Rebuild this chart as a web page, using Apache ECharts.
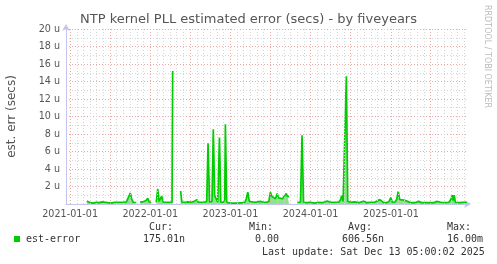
<!DOCTYPE html>
<html><head><meta charset="utf-8">
<script src="https://cdn.jsdelivr.net/npm/echarts@6/dist/echarts.min.js"></script>
<style>html,body{margin:0;padding:0;background:#fff}#c{width:497px;height:264px}</style>
</head><body><div id="c"></div>
<script>
// ---- data (values in micro-seconds) ----
const dates = ['2021-03-18','2021-03-24','2021-04-02','2021-04-16','2021-04-30','2021-05-13','2021-05-27','2021-06-10','2021-06-23','2021-07-07','2021-07-21','2021-08-04','2021-08-17','2021-08-31','2021-09-14','2021-09-23','2021-10-02','2021-10-09','2021-10-16','2021-10-29','2021-11-07','2021-11-16','2021-11-29','2021-12-13','2021-12-20','2021-12-27','2022-01-05','2022-01-14','2022-01-28','2022-02-04','2022-02-10','2022-02-15','2022-02-22','2022-03-01','2022-03-14','2022-03-28','2022-04-10','2022-04-13','2022-04-18','2022-05-19','2022-05-25','2022-06-09','2022-06-23','2022-07-06','2022-07-20','2022-08-01','2022-08-07','2022-08-21','2022-09-04','2022-09-15','2022-09-21','2022-09-28','2022-10-09','2022-10-15','2022-10-21','2022-10-28','2022-11-04','2022-11-08','2022-11-12','2022-11-18','2022-11-29','2022-12-06','2022-12-09','2022-12-15','2023-01-01','2023-01-19','2023-02-06','2023-02-24','2023-03-08','2023-03-14','2023-03-21','2023-03-28','2023-04-06','2023-04-20','2023-05-04','2023-05-17','2023-05-25','2023-05-31','2023-06-14','2023-06-25','2023-07-02','2023-07-09','2023-07-18','2023-07-25','2023-08-02','2023-08-08','2023-08-17','2023-08-26','2023-09-04','2023-09-12','2023-09-18','2023-09-25','2023-09-30','2023-11-02','2023-11-16','2023-11-23','2023-11-30','2023-12-13','2024-01-01','2024-01-19','2024-02-06','2024-02-24','2024-03-17','2024-04-01','2024-04-19','2024-05-08','2024-05-17','2024-05-21','2024-05-28','2024-06-06','2024-06-12','2024-06-18','2024-07-01','2024-07-19','2024-08-07','2024-08-31','2024-09-12','2024-10-01','2024-10-19','2024-10-28','2024-11-11','2024-11-20','2024-11-29','2024-12-13','2024-12-24','2024-12-31','2025-01-07','2025-01-18','2025-01-27','2025-02-03','2025-02-10','2025-02-19','2025-02-28','2025-03-09','2025-03-18','2025-04-01','2025-04-19','2025-05-08','2025-05-21','2025-06-09','2025-06-27','2025-07-15','2025-07-29','2025-08-07','2025-08-16','2025-09-03','2025-09-22','2025-10-01','2025-10-07','2025-10-11','2025-10-16','2025-10-21','2025-11-06','2025-11-25','2025-12-13'];
const estError = [0.35,0.3,0.15,0.1,0.2,0.15,0.25,0.2,0.15,0.1,0.2,0.2,0.2,0.2,0.25,0.4,1.25,0.5,0.2,0.15,null,0.25,0.25,0.4,0.65,0.25,0.15,null,0.2,1.7,0.3,0.4,0.9,0.2,0.2,0.2,0.2,15.2,null,1.5,0.2,0.2,0.25,0.2,0.3,0.5,0.2,0.2,0.2,0.3,6.95,0.2,0.3,8.55,1.0,0.9,0.2,0.3,7.6,0.2,0.2,0.5,9.1,0.2,0.1,0.1,0.1,0.15,0.2,0.6,1.35,0.3,0.2,0.2,0.25,0.3,0.5,0.2,0.2,0.3,1.35,0.85,0.85,0.6,1.2,0.7,0.6,0.6,0.55,1.2,0.85,0.85,null,0.2,0.2,7.85,0.2,0.15,0.2,0.1,0.2,0.15,0.35,0.2,0.2,0.2,0.5,0.95,0.3,0.4,14.6,0.3,0.2,0.25,0.15,0.35,0.15,0.2,0.2,0.35,0.5,0.3,0.15,0.15,0.3,0.75,0.2,0.2,0.5,1.45,0.5,0.3,0.45,0.55,0.3,0.15,0.15,0.3,0.15,0.15,0.15,0.15,0.3,0.5,0.2,0.15,0.2,0.55,1.0,0.4,1.0,0.2,0.15,0.2,0.17];
const xLabels = ['2021-01-01','2022-01-01','2023-01-01','2024-01-01','2025-01-01'];
const majorX = ['2021-01-01','2021-07-01','2022-01-01','2022-07-01','2023-01-01','2023-07-01','2024-01-01','2024-07-01','2025-01-01','2025-07-01'];
const rangeStart = '2020-12-13T05:00:02Z';
const rangeEnd = '2025-12-13T05:00:02Z';
const legendStats = {cur:'175.01n', min:'0.00', avg:'606.56n', max:'16.00m'};
const lastUpdate = 'Last update: Sat Dec 13 05:00:02 2025';

const T = d => Date.parse(d.length === 10 ? d + 'T00:00:00Z' : d);
const startT = T(rangeStart), endT = T(rangeEnd);
// minor vertical grid: first of each month (not on majors)
const minorX = [];
for (let y = 2020; y <= 2025; y++) for (let m = 1; m <= 12; m++) {
  if (m === 1 || m === 7) continue;
  const d = y + '-' + String(m).padStart(2,'0') + '-01';
  const t = T(d);
  if (t > startT && t < endT) minorX.push(d);
}

const chart = echarts.init(document.getElementById('c'), null, {renderer:'canvas'});
const mono = '"DejaVu Sans Mono", monospace';
const sans = '"DejaVu Sans", sans-serif';
const labelMap = {};
xLabels.forEach(d => { labelMap[T(d)] = d; });

chart.setOption({
  animation: false,
  backgroundColor: '#fff',
  title: {text: 'NTP kernel PLL estimated error (secs) - by fiveyears', left: 'center', top: 8,
    textStyle: {fontFamily: sans, fontSize: 13, fontWeight: 'normal', color: '#555'}},
  grid: {left: 66, right: 30, top: 29, bottom: 60, containLabel: false, outerBoundsMode: 'none'},
  xAxis: {type: 'value', min: startT, max: endT, scale: true,
    axisLine: {show: true, onZero: false, lineStyle: {color: '#c4c4ee', width: 1}, symbol: ['none','arrow'], symbolSize: [6,7], symbolOffset: [0,4]},
    axisTick: {show: false},
    splitLine: {show: false},
    axisLabel: {show: true, customValues: xLabels.map(T),
      formatter: v => labelMap[v] || '', color: '#555', fontFamily: sans, fontSize: 9.6, margin: 5}
  },
  yAxis: {type: 'value', min: 0, max: 20, interval: 2,
    axisLine: {show: true, lineStyle: {color: '#c4c4ee', width: 1}, symbol: ['none','arrow'], symbolSize: [6,7], symbolOffset: [0,5]},
    axisTick: {show: false},
    axisLabel: {color: '#555', fontFamily: sans, fontSize: 9.6, margin: 6, formatter: v => v === 0 ? '' : v + ' u'},
    splitLine: {show: true, lineStyle: {color: '#eaa9a9', type: [1,2], width: 1}},
    minorTick: {show: false, splitNumber: 2},
    minorSplitLine: {show: true, lineStyle: {color: '#d6d6d6', type: [1,2], width: 1}},
    name: 'est. err (secs)', nameLocation: 'middle', nameGap: 48, nameRotate: 90,
    nameTextStyle: {color: '#555', fontFamily: sans, fontSize: 12}
  },
  series: [
    {type: 'line', z: 1, data: [[startT, null]], silent: true, showSymbol: false,
     markLine: {silent: true, symbol: 'none', label: {show: false}, animation: false,
       lineStyle: {color: '#d6d6d6', type: [1,2], width: 1},
       data: minorX.map(d => ({xAxis: T(d)}))}},
    {type: 'line', z: 1, data: [[startT, null]], silent: true, showSymbol: false,
     markLine: {silent: true, symbol: 'none', label: {show: false}, animation: false,
       lineStyle: {color: '#eaa9a9', type: [1,2], width: 1},
       data: majorX.map(d => ({xAxis: T(d)}))}},
    {type: 'line', z: 3, name: 'est-error', showSymbol: false, connectNulls: false,
     data: dates.map((d,i) => [T(d), estError[i]]),
     lineStyle: {color: '#00cc00', width: 1.7},
     areaStyle: {color: '#8ee48e', opacity: 1},
     itemStyle: {color: '#00cc00'}}
  ],
  graphic: [
    {type: 'text', left: 483, top: 5, rotation: -Math.PI/2, style: {text: 'RRDTOOL / TOBI OETIKER', fill: '#bbb', font: '8px ' + sans}},
    {type: 'rect', left: 14, top: 236, shape: {width: 6, height: 6}, style: {fill: '#00cc00'}},
    {type: 'text', left: 26, top: 234, style: {text: 'est-error', fill: '#333', font: '10px ' + mono}},
    {type: 'text', left: 149, top: 222, style: {text: 'Cur:', fill: '#333', font: '10px ' + mono}},
    {type: 'text', left: 143, top: 234, style: {text: legendStats.cur, fill: '#333', font: '10px ' + mono}},
    {type: 'text', left: 249, top: 222, style: {text: 'Min:', fill: '#333', font: '10px ' + mono}},
    {type: 'text', left: 255, top: 234, style: {text: legendStats.min, fill: '#333', font: '10px ' + mono}},
    {type: 'text', left: 348, top: 222, style: {text: 'Avg:', fill: '#333', font: '10px ' + mono}},
    {type: 'text', left: 342, top: 234, style: {text: legendStats.avg, fill: '#333', font: '10px ' + mono}},
    {type: 'text', left: 447, top: 222, style: {text: 'Max:', fill: '#333', font: '10px ' + mono}},
    {type: 'text', left: 447, top: 234, style: {text: legendStats.max, fill: '#333', font: '10px ' + mono}},
    {type: 'text', left: 262, top: 247, style: {text: lastUpdate, fill: '#333', font: '10px ' + mono}}
  ]
});
</script></body></html>
